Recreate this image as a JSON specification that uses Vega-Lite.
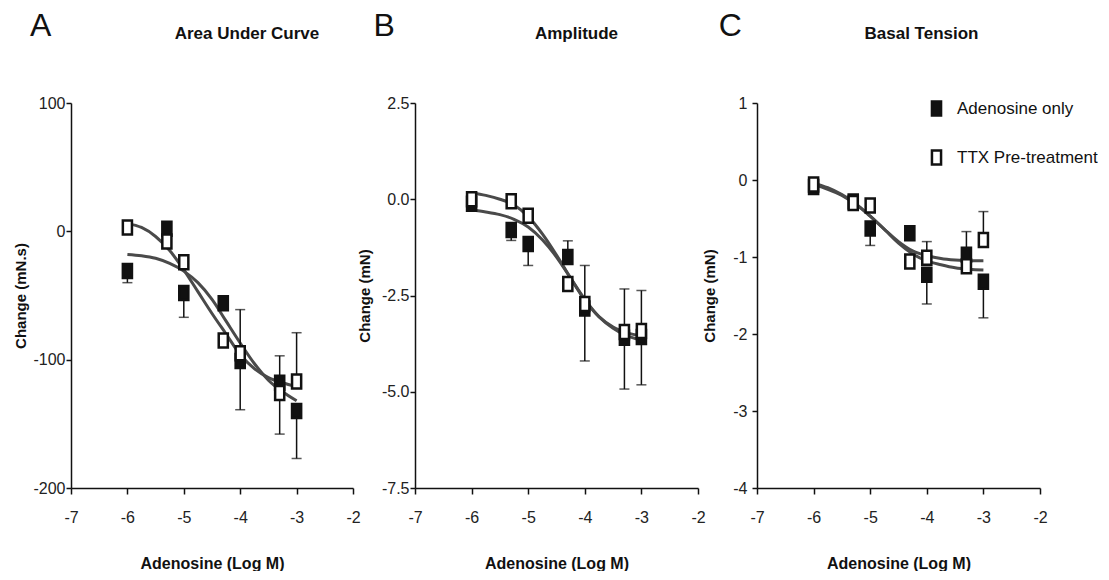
{
  "$schema": "https://vega.github.io/schema/vega-lite/v6.json",
  "background": "white",
  "padding": {"left": 13, "top": 10, "right": 0, "bottom": 0},
  "config": {
    "view": {"stroke": null},
    "font": "Liberation Sans",
    "concat": {"spacing": -4},
    "axis": {
      "grid": false,
      "domainColor": "#111",
      "domainWidth": 1.5,
      "tickColor": "#111",
      "tickWidth": 1.5,
      "labelFont": "Liberation Sans",
      "labelFontSize": 16,
      "labelColor": "#222",
      "labelExpr": "replace(datum.label, '\u2212', '-')",
      "titleFont": "Liberation Sans",
      "titleFontWeight": "bold",
      "titleFontSize": 15,
      "titleColor": "#111"
    },
    "axisX": {"tickSize": 6, "labelPadding": 15, "titlePadding": 30, "titleFontSize": 16, "labelFlush": false},
    "axisY": {"tickSize": 5, "labelPadding": 1}
  },
  "datasets": {
    "auc_pts": [
      {"logM": -6, "series": "Adenosine only", "change": -31},
      {"logM": -5.3, "series": "Adenosine only", "change": 2},
      {"logM": -5, "series": "Adenosine only", "change": -48},
      {"logM": -4.3, "series": "Adenosine only", "change": -56},
      {"logM": -4, "series": "Adenosine only", "change": -101},
      {"logM": -3.3, "series": "Adenosine only", "change": -118},
      {"logM": -3, "series": "Adenosine only", "change": -140},
      {"logM": -6, "series": "TTX Pre-treatment", "change": 3},
      {"logM": -5.3, "series": "TTX Pre-treatment", "change": -8},
      {"logM": -5, "series": "TTX Pre-treatment", "change": -24},
      {"logM": -4.3, "series": "TTX Pre-treatment", "change": -85},
      {"logM": -4, "series": "TTX Pre-treatment", "change": -95},
      {"logM": -3.3, "series": "TTX Pre-treatment", "change": -126},
      {"logM": -3, "series": "TTX Pre-treatment", "change": -117}
    ],
    "auc_err": [
      {"logM": -6, "change": -31, "cap": -40},
      {"logM": -5, "change": -48, "cap": -67},
      {"logM": -4, "change": -101, "cap": -139},
      {"logM": -4, "change": -95, "cap": -61},
      {"logM": -3.3, "change": -118, "cap": -97},
      {"logM": -3.3, "change": -126, "cap": -158},
      {"logM": -3, "change": -140, "cap": -177},
      {"logM": -3, "change": -117, "cap": -79}
    ],
    "auc_fit": [
      {"logM": -6, "series": "Adenosine only", "change": -18},
      {"logM": -5.75, "series": "Adenosine only", "change": -19},
      {"logM": -5.5, "series": "Adenosine only", "change": -21},
      {"logM": -5.25, "series": "Adenosine only", "change": -25},
      {"logM": -5, "series": "Adenosine only", "change": -31},
      {"logM": -4.75, "series": "Adenosine only", "change": -40},
      {"logM": -4.5, "series": "Adenosine only", "change": -53},
      {"logM": -4.25, "series": "Adenosine only", "change": -70},
      {"logM": -4, "series": "Adenosine only", "change": -87},
      {"logM": -3.75, "series": "Adenosine only", "change": -103},
      {"logM": -3.5, "series": "Adenosine only", "change": -116},
      {"logM": -3.25, "series": "Adenosine only", "change": -125},
      {"logM": -3, "series": "Adenosine only", "change": -132},
      {"logM": -6, "series": "TTX Pre-treatment", "change": 6},
      {"logM": -5.75, "series": "TTX Pre-treatment", "change": 3},
      {"logM": -5.5, "series": "TTX Pre-treatment", "change": -4},
      {"logM": -5.25, "series": "TTX Pre-treatment", "change": -15},
      {"logM": -5, "series": "TTX Pre-treatment", "change": -30},
      {"logM": -4.75, "series": "TTX Pre-treatment", "change": -47},
      {"logM": -4.5, "series": "TTX Pre-treatment", "change": -64},
      {"logM": -4.25, "series": "TTX Pre-treatment", "change": -80},
      {"logM": -4, "series": "TTX Pre-treatment", "change": -96},
      {"logM": -3.75, "series": "TTX Pre-treatment", "change": -107},
      {"logM": -3.5, "series": "TTX Pre-treatment", "change": -114},
      {"logM": -3.25, "series": "TTX Pre-treatment", "change": -118},
      {"logM": -3, "series": "TTX Pre-treatment", "change": -121}
    ],
    "amp_pts": [
      {"logM": -6, "series": "Adenosine only", "change": -0.12},
      {"logM": -5.3, "series": "Adenosine only", "change": -0.8},
      {"logM": -5, "series": "Adenosine only", "change": -1.16},
      {"logM": -4.3, "series": "Adenosine only", "change": -1.5},
      {"logM": -4, "series": "Adenosine only", "change": -2.84},
      {"logM": -3.3, "series": "Adenosine only", "change": -3.6},
      {"logM": -3, "series": "Adenosine only", "change": -3.58},
      {"logM": -6, "series": "TTX Pre-treatment", "change": 0.0},
      {"logM": -5.3, "series": "TTX Pre-treatment", "change": -0.05},
      {"logM": -5, "series": "TTX Pre-treatment", "change": -0.43},
      {"logM": -4.3, "series": "TTX Pre-treatment", "change": -2.2},
      {"logM": -4, "series": "TTX Pre-treatment", "change": -2.72},
      {"logM": -3.3, "series": "TTX Pre-treatment", "change": -3.45},
      {"logM": -3, "series": "TTX Pre-treatment", "change": -3.42}
    ],
    "amp_err": [
      {"logM": -5.3, "change": -0.8, "cap": -1.07},
      {"logM": -5, "change": -1.16, "cap": -1.72},
      {"logM": -4.3, "change": -1.5, "cap": -1.08},
      {"logM": -4, "change": -2.72, "cap": -1.72},
      {"logM": -4, "change": -2.84, "cap": -4.2},
      {"logM": -3.3, "change": -3.45, "cap": -2.33},
      {"logM": -3.3, "change": -3.6, "cap": -4.93},
      {"logM": -3, "change": -3.42, "cap": -2.37},
      {"logM": -3, "change": -3.58, "cap": -4.82}
    ],
    "amp_fit": [
      {"logM": -6, "series": "Adenosine only", "change": -0.28},
      {"logM": -5.75, "series": "Adenosine only", "change": -0.33},
      {"logM": -5.5, "series": "Adenosine only", "change": -0.4},
      {"logM": -5.25, "series": "Adenosine only", "change": -0.52},
      {"logM": -5, "series": "Adenosine only", "change": -0.72},
      {"logM": -4.75, "series": "Adenosine only", "change": -1.05},
      {"logM": -4.5, "series": "Adenosine only", "change": -1.5},
      {"logM": -4.25, "series": "Adenosine only", "change": -2.05},
      {"logM": -4, "series": "Adenosine only", "change": -2.6},
      {"logM": -3.75, "series": "Adenosine only", "change": -3.05},
      {"logM": -3.5, "series": "Adenosine only", "change": -3.35},
      {"logM": -3.25, "series": "Adenosine only", "change": -3.55},
      {"logM": -3, "series": "Adenosine only", "change": -3.66},
      {"logM": -6, "series": "TTX Pre-treatment", "change": 0.17},
      {"logM": -5.75, "series": "TTX Pre-treatment", "change": 0.1},
      {"logM": -5.5, "series": "TTX Pre-treatment", "change": 0.0},
      {"logM": -5.25, "series": "TTX Pre-treatment", "change": -0.15},
      {"logM": -5, "series": "TTX Pre-treatment", "change": -0.45},
      {"logM": -4.75, "series": "TTX Pre-treatment", "change": -0.9},
      {"logM": -4.5, "series": "TTX Pre-treatment", "change": -1.45},
      {"logM": -4.25, "series": "TTX Pre-treatment", "change": -2.05},
      {"logM": -4, "series": "TTX Pre-treatment", "change": -2.62},
      {"logM": -3.75, "series": "TTX Pre-treatment", "change": -3.05},
      {"logM": -3.5, "series": "TTX Pre-treatment", "change": -3.32},
      {"logM": -3.25, "series": "TTX Pre-treatment", "change": -3.47},
      {"logM": -3, "series": "TTX Pre-treatment", "change": -3.55}
    ],
    "bt_pts": [
      {"logM": -6, "series": "Adenosine only", "change": -0.09},
      {"logM": -5.3, "series": "Adenosine only", "change": -0.28},
      {"logM": -5, "series": "Adenosine only", "change": -0.63},
      {"logM": -4.3, "series": "Adenosine only", "change": -0.69},
      {"logM": -4, "series": "Adenosine only", "change": -1.23},
      {"logM": -3.3, "series": "Adenosine only", "change": -0.97},
      {"logM": -3, "series": "Adenosine only", "change": -1.32},
      {"logM": -6, "series": "TTX Pre-treatment", "change": -0.06},
      {"logM": -5.3, "series": "TTX Pre-treatment", "change": -0.3},
      {"logM": -5, "series": "TTX Pre-treatment", "change": -0.33},
      {"logM": -4.3, "series": "TTX Pre-treatment", "change": -1.06},
      {"logM": -4, "series": "TTX Pre-treatment", "change": -1.01},
      {"logM": -3.3, "series": "TTX Pre-treatment", "change": -1.12},
      {"logM": -3, "series": "TTX Pre-treatment", "change": -0.78}
    ],
    "bt_err": [
      {"logM": -5, "change": -0.63, "cap": -0.85},
      {"logM": -4, "change": -1.23, "cap": -1.61},
      {"logM": -4, "change": -1.01, "cap": -0.8},
      {"logM": -3.3, "change": -0.97, "cap": -0.67},
      {"logM": -3, "change": -0.78, "cap": -0.41},
      {"logM": -3, "change": -1.32, "cap": -1.79}
    ],
    "bt_fit": [
      {"logM": -6, "series": "Adenosine only", "change": -0.06},
      {"logM": -5.75, "series": "Adenosine only", "change": -0.12},
      {"logM": -5.5, "series": "Adenosine only", "change": -0.2},
      {"logM": -5.25, "series": "Adenosine only", "change": -0.32},
      {"logM": -5, "series": "Adenosine only", "change": -0.47},
      {"logM": -4.75, "series": "Adenosine only", "change": -0.64},
      {"logM": -4.5, "series": "Adenosine only", "change": -0.82},
      {"logM": -4.25, "series": "Adenosine only", "change": -0.96},
      {"logM": -4, "series": "Adenosine only", "change": -1.05},
      {"logM": -3.75, "series": "Adenosine only", "change": -1.1},
      {"logM": -3.5, "series": "Adenosine only", "change": -1.14},
      {"logM": -3.25, "series": "Adenosine only", "change": -1.16},
      {"logM": -3, "series": "Adenosine only", "change": -1.17},
      {"logM": -6, "series": "TTX Pre-treatment", "change": -0.04},
      {"logM": -5.75, "series": "TTX Pre-treatment", "change": -0.1},
      {"logM": -5.5, "series": "TTX Pre-treatment", "change": -0.19},
      {"logM": -5.25, "series": "TTX Pre-treatment", "change": -0.31},
      {"logM": -5, "series": "TTX Pre-treatment", "change": -0.47},
      {"logM": -4.75, "series": "TTX Pre-treatment", "change": -0.64},
      {"logM": -4.5, "series": "TTX Pre-treatment", "change": -0.8},
      {"logM": -4.25, "series": "TTX Pre-treatment", "change": -0.92},
      {"logM": -4, "series": "TTX Pre-treatment", "change": -0.98},
      {"logM": -3.75, "series": "TTX Pre-treatment", "change": -1.02},
      {"logM": -3.5, "series": "TTX Pre-treatment", "change": -1.04},
      {"logM": -3.25, "series": "TTX Pre-treatment", "change": -1.05},
      {"logM": -3, "series": "TTX Pre-treatment", "change": -1.05}
    ]
  },
  "resolve": {"scale": {"fill": "independent"}, "legend": {"fill": "independent"}},
  "hconcat": [
    {
      "title": {"text": "A", "anchor": "start", "frame": "bounds", "fontSize": 32, "fontWeight": "normal", "color": "#111", "dx": 16, "offset": -18},
      "hconcat": [
        {
          "title": {"text": "Area Under Curve", "anchor": "middle", "dx": 35, "fontSize": 17, "fontWeight": "bold", "color": "#111", "offset": 52},
          "width": 282,
          "height": 385,
          "encoding": {
            "x": {"field": "logM", "type": "quantitative", "scale": {"domain": [-7, -2], "nice": false, "zero": false}, "axis": {"title": "Adenosine (Log M)", "values": [-7, -6, -5, -4, -3, -2], "format": "d"}}
          },
          "layer": [
            {
              "data": {"name": "auc_fit"},
              "mark": {"type": "line", "interpolate": "monotone", "color": "#4a4a4a", "strokeWidth": 3},
              "encoding": {
                "y": {"field": "change", "type": "quantitative", "scale": {"domain": [-200, 100], "nice": false, "zero": false}, "axis": {"title": "Change (mN.s)", "values": [-200, -100, 0, 100], "titlePadding": 4}},
                "detail": {"field": "series", "type": "nominal"}
              }
            },
            {
              "data": {"name": "auc_err"},
              "mark": {"type": "rule", "color": "#111", "strokeWidth": 1.5},
              "encoding": {
                "y": {"field": "change", "type": "quantitative", "scale": {"domain": [-200, 100], "nice": false, "zero": false}, "axis": {"title": "Change (mN.s)", "values": [-200, -100, 0, 100], "titlePadding": 4}},
                "y2": {"field": "cap"}
              }
            },
            {
              "data": {"name": "auc_err"},
              "mark": {"type": "tick", "orient": "horizontal", "color": "#111", "thickness": 1.5, "size": 10},
              "encoding": {
                "y": {"field": "cap", "type": "quantitative", "scale": {"domain": [-200, 100], "nice": false, "zero": false}, "axis": {"title": "Change (mN.s)", "values": [-200, -100, 0, 100], "titlePadding": 4}}
              }
            },
            {
              "data": {"name": "auc_pts"},
              "mark": {"type": "point", "shape": "M-0.65,-1H0.65V1H-0.65Z", "filled": true, "size": 196, "stroke": "#111", "strokeWidth": 2.5, "opacity": 1},
              "encoding": {
                "y": {"field": "change", "type": "quantitative", "scale": {"domain": [-200, 100], "nice": false, "zero": false}, "axis": {"title": "Change (mN.s)", "values": [-200, -100, 0, 100], "titlePadding": 4}},
                "fill": {"field": "series", "type": "nominal", "scale": {"domain": ["Adenosine only", "TTX Pre-treatment"], "range": ["#111111", "#ffffff"]}, "legend": null}
              }
            }
          ]
        }
      ]
    },
    {
      "title": {"text": "B", "anchor": "start", "frame": "bounds", "fontSize": 32, "fontWeight": "normal", "color": "#111", "dx": 16, "offset": -18},
      "hconcat": [
        {
          "title": {"text": "Amplitude", "anchor": "middle", "dx": 20, "fontSize": 17, "fontWeight": "bold", "color": "#111", "offset": 52},
          "width": 283,
          "height": 385,
          "encoding": {
            "x": {"field": "logM", "type": "quantitative", "scale": {"domain": [-7, -2], "nice": false, "zero": false}, "axis": {"title": "Adenosine (Log M)", "values": [-7, -6, -5, -4, -3, -2], "format": "d"}}
          },
          "layer": [
            {
              "data": {"name": "amp_fit"},
              "mark": {"type": "line", "interpolate": "monotone", "color": "#4a4a4a", "strokeWidth": 3},
              "encoding": {
                "y": {"field": "change", "type": "quantitative", "scale": {"domain": [-7.5, 2.5], "nice": false, "zero": false}, "axis": {"title": "Change (mN)", "values": [-7.5, -5, -2.5, 0, 2.5], "format": ".1f", "titlePadding": 9}},
                "detail": {"field": "series", "type": "nominal"}
              }
            },
            {
              "data": {"name": "amp_err"},
              "mark": {"type": "rule", "color": "#111", "strokeWidth": 1.5},
              "encoding": {
                "y": {"field": "change", "type": "quantitative", "scale": {"domain": [-7.5, 2.5], "nice": false, "zero": false}, "axis": {"title": "Change (mN)", "values": [-7.5, -5, -2.5, 0, 2.5], "format": ".1f", "titlePadding": 9}},
                "y2": {"field": "cap"}
              }
            },
            {
              "data": {"name": "amp_err"},
              "mark": {"type": "tick", "orient": "horizontal", "color": "#111", "thickness": 1.5, "size": 10},
              "encoding": {
                "y": {"field": "cap", "type": "quantitative", "scale": {"domain": [-7.5, 2.5], "nice": false, "zero": false}, "axis": {"title": "Change (mN)", "values": [-7.5, -5, -2.5, 0, 2.5], "format": ".1f", "titlePadding": 9}}
              }
            },
            {
              "data": {"name": "amp_pts"},
              "mark": {"type": "point", "shape": "M-0.65,-1H0.65V1H-0.65Z", "filled": true, "size": 196, "stroke": "#111", "strokeWidth": 2.5, "opacity": 1},
              "encoding": {
                "y": {"field": "change", "type": "quantitative", "scale": {"domain": [-7.5, 2.5], "nice": false, "zero": false}, "axis": {"title": "Change (mN)", "values": [-7.5, -5, -2.5, 0, 2.5], "format": ".1f", "titlePadding": 9}},
                "fill": {"field": "series", "type": "nominal", "scale": {"domain": ["Adenosine only", "TTX Pre-treatment"], "range": ["#111111", "#ffffff"]}, "legend": null}
              }
            }
          ]
        }
      ]
    },
    {
      "title": {"text": "C", "anchor": "start", "frame": "bounds", "fontSize": 32, "fontWeight": "normal", "color": "#111", "dx": 16, "offset": -18},
      "hconcat": [
        {
          "title": {"text": "Basal Tension", "anchor": "middle", "dx": 23, "fontSize": 17, "fontWeight": "bold", "color": "#111", "offset": 52},
          "width": 283,
          "height": 385,
          "encoding": {
            "x": {"field": "logM", "type": "quantitative", "scale": {"domain": [-7, -2], "nice": false, "zero": false}, "axis": {"title": "Adenosine (Log M)", "values": [-7, -6, -5, -4, -3, -2], "format": "d"}}
          },
          "layer": [
            {
              "data": {"name": "bt_fit"},
              "mark": {"type": "line", "interpolate": "monotone", "color": "#4a4a4a", "strokeWidth": 3},
              "encoding": {
                "y": {"field": "change", "type": "quantitative", "scale": {"domain": [-4, 1], "nice": false, "zero": false}, "axis": {"title": "Change (mN)", "values": [-4, -3, -2, -1, 0, 1], "labelPadding": 5, "titlePadding": 15}},
                "detail": {"field": "series", "type": "nominal"}
              }
            },
            {
              "data": {"name": "bt_err"},
              "mark": {"type": "rule", "color": "#111", "strokeWidth": 1.5},
              "encoding": {
                "y": {"field": "change", "type": "quantitative", "scale": {"domain": [-4, 1], "nice": false, "zero": false}, "axis": {"title": "Change (mN)", "values": [-4, -3, -2, -1, 0, 1], "labelPadding": 5, "titlePadding": 15}},
                "y2": {"field": "cap"}
              }
            },
            {
              "data": {"name": "bt_err"},
              "mark": {"type": "tick", "orient": "horizontal", "color": "#111", "thickness": 1.5, "size": 10},
              "encoding": {
                "y": {"field": "cap", "type": "quantitative", "scale": {"domain": [-4, 1], "nice": false, "zero": false}, "axis": {"title": "Change (mN)", "values": [-4, -3, -2, -1, 0, 1], "labelPadding": 5, "titlePadding": 15}}
              }
            },
            {
              "data": {"name": "bt_pts"},
              "mark": {"type": "point", "shape": "M-0.65,-1H0.65V1H-0.65Z", "filled": true, "size": 196, "stroke": "#111", "strokeWidth": 2.5, "opacity": 1},
              "encoding": {
                "y": {"field": "change", "type": "quantitative", "scale": {"domain": [-4, 1], "nice": false, "zero": false}, "axis": {"title": "Change (mN)", "values": [-4, -3, -2, -1, 0, 1], "labelPadding": 5, "titlePadding": 15}},
                "fill": {
                  "field": "series", "type": "nominal",
                  "scale": {"domain": ["Adenosine only", "TTX Pre-treatment"], "range": ["#111111", "#ffffff"]},
                  "legend": {"title": null, "orient": "none", "legendX": 171, "legendY": -3, "padding": 0, "symbolType": "M-0.65,-1H0.65V1H-0.65Z", "symbolSize": 196, "symbolStrokeColor": "#111", "symbolStrokeWidth": 2.5, "symbolOpacity": 1, "labelFontSize": 17, "labelFont": "Liberation Sans", "labelColor": "#111", "labelOffset": 12, "rowPadding": 24}
                }
              }
            }
          ]
        }
      ]
    }
  ]
}
